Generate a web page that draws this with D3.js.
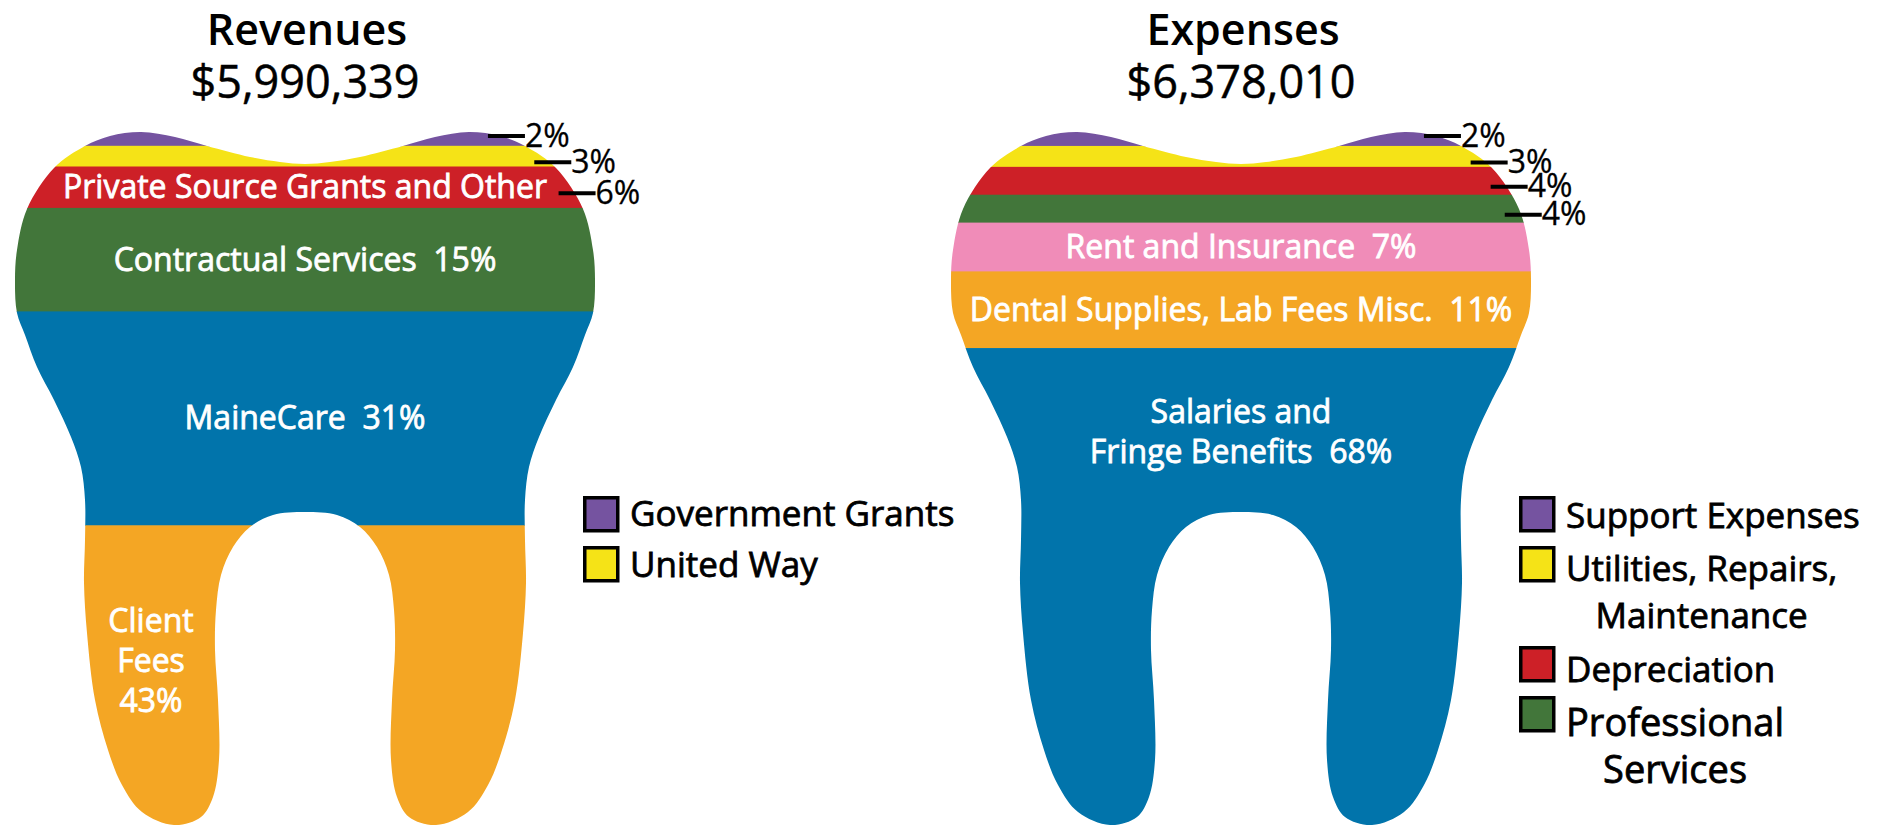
<!DOCTYPE html>
<html>
<head>
<meta charset="utf-8">
<script src="https://cdn.jsdelivr.net/npm/d3@7"></script>
<style>
  body { margin: 0; background: #fff; }
  svg { display: block; font-family: "Open Sans", "Noto Sans", sans-serif; }
  text { white-space: pre; }
</style>
</head>
<body>
<svg id="chart" width="1887" height="829"></svg>
<script>
// ---- data ----
const revNames = ['Government Grants', 'United Way', 'Private Source Grants and Other',
                  'Contractual Services', 'MaineCare', 'Client Fees'];
const revPct = [2, 3, 6, 15, 31, 43];
const revColors = ['#7553a0', '#f5e317', '#cd2027', '#42763a', '#0174ab', '#f4a624'];
const revTotal = '$5,990,339';
// text shown inside the tooth ({p} = percent), null = no inside label
const revInside = [null, null, ['Private Source Grants and Other'], ['Contractual Services  {p}'],
                   ['MaineCare  {p}'], ['Client', 'Fees', '{p}']];
const revLegend = [['Government Grants'], ['United Way']];

const expNames = ['Support Expenses', 'Utilities, Repairs, Maintenance', 'Depreciation',
                  'Professional Services', 'Rent and Insurance', 'Dental Supplies, Lab Fees Misc.',
                  'Salaries and Fringe Benefits'];
const expPct = [2, 3, 4, 4, 7, 11, 68];
const expColors = ['#7553a0', '#f5e317', '#cd2027', '#42763a', '#f08cb8', '#f4a624', '#0174ab'];
const expTotal = '$6,378,010';
const expInside = [null, null, null, null, ['Rent and Insurance  {p}'],
                   ['Dental Supplies, Lab Fees Misc.  {p}'], ['Salaries and', 'Fringe Benefits  {p}']];
const expLegend = [['Support Expenses'], ['Utilities, Repairs,', 'Maintenance'], ['Depreciation'],
                   ['Professional', 'Services']];

// ---- layout ----
const toothTop = 132, toothBottom = 822, holeTop = 512;
// left half of the tooth outline (dx from centre, y), from the middle dip round to the top of the gap
const halfOutline = [[0,164],[-25,162],[-55,157],[-98,146],[-130,137],[-164,132],[-195,136],[-220,146],
  [-251,168],[-278,209],[-288,250],[-290,280],[-288,313],[-280,335],[-268,367],[-251,400],[-234,437],
  [-224,467],[-220,500],[-220,540],[-221,583],[-218,633],[-210,700],[-197,750],[-183,785],[-163,812],
  [-131,825],[-104,817],[-92,797],[-86,760],[-87,700],[-90,650],[-89,610],[-84,575],[-72,547],
  [-55,527],[-32,515],[0,512]];
const outline = halfOutline.concat(halfOutline.slice(1, -1).reverse().map(([x, y]) => [-x, y]));

const teeth = [
  { cx: 305, title: 'Revenues', total: revTotal, names: revNames, pct: revPct, colors: revColors,
    inside: revInside, callouts: 2, legend: revLegend, legendSize: [35, 35], legendDy: [30, 31],
    lastPlace: 'root' },
  { cx: 1241, title: 'Expenses', total: expTotal, names: expNames, pct: expPct, colors: expColors,
    inside: expInside, callouts: 3, legend: expLegend, legendSize: [35, 35, 35, 38], legendDy: [32, 35, 36, 40],
    lastPlace: 'crown' }
];
// callouts drawn for bands 0..callouts (revenue also for "Private Source" 6%)

const svg = d3.select('#chart');
const toothLine = d3.line().curve(d3.curveCatmullRomClosed.alpha(0.5));

teeth.forEach((t, ti) => {
  const g = svg.append('g').attr('transform', `translate(${t.cx},0)`);

  // titles
  g.append('text').attr('x', 2).attr('y', 45).attr('text-anchor', 'middle')
    .attr('font-size', 43).attr('font-weight', 600).text(t.title);
  g.append('text').attr('x', 0).attr('y', 98).attr('text-anchor', 'middle')
    .attr('font-size', 45).attr('stroke', '#000').attr('stroke-width', 0.5).text(t.total);

  const total = d3.sum(t.pct);
  const y = d3.scaleLinear().domain([0, total]).range([toothTop, toothBottom]);
  const cum = d3.cumsum(t.pct);
  const bands = t.pct.map((p, i) => ({
    i, p, name: t.names[i], color: t.colors[i],
    y0: y(i ? cum[i - 1] : 0), y1: y(cum[i])
  }));

  const clipId = 'tooth' + ti;
  const shape = g.append('clipPath').attr('id', clipId)
    .append('path').attr('d', toothLine(outline));

  g.append('g').attr('clip-path', `url(#${clipId})`)
    .selectAll('rect').data(bands).join('rect')
    .attr('x', -300).attr('width', 600)
    .attr('y', d => d.y0).attr('height', d => d.y1 - d.y0 + (d.i === bands.length - 1 ? 6 : 0.6))
    .attr('fill', d => d.color);

  // right edge of the outline at a given y, sampled from the path
  const node = shape.node();
  const len = node.getTotalLength();
  const samples = d3.range(0, len, 0.5).map(l => node.getPointAtLength(l));
  const edgeAt = yy => d3.max(samples.filter(p => Math.abs(p.y - yy) < 1.5 && p.x > 0), p => p.x);

  // inside labels
  bands.forEach(b => {
    const lines = t.inside[b.i];
    if (!lines) return;
    const txt = lines.map(s => s.replace('{p}', b.p + '%'));
    const lh = 40;
    let cx = 0, cy = (b.y0 + b.y1) / 2;
    if (b.i === bands.length - 1 && t.lastPlace === 'root') { cx = -154; cy = (b.y0 + b.y1) / 2 - 13; }
    if (b.i === bands.length - 1 && t.lastPlace === 'crown') { cy = (b.y0 + holeTop) / 2 + 2; }
    const tx = g.append('text').attr('text-anchor', 'middle').attr('fill', '#fff')
      .attr('stroke', '#fff').attr('stroke-width', 0.8).attr('font-size', 32);
    txt.forEach((s, k) => {
      tx.append('tspan').attr('x', cx)
        .attr('y', cy + (k - (txt.length - 1) / 2) * lh + 11).text(s);
    });
  });

  // callouts for the thin top bands
  bands.filter(b => b.i <= t.callouts).forEach(b => {
    const ly = b.i === 0 ? b.y0 + 4 : (b.y0 + b.y1) / 2 + 6;
    const x1 = edgeAt(ly) + 20;
    g.append('line').attr('x1', x1 - 37).attr('x2', x1).attr('y1', ly).attr('y2', ly)
      .attr('stroke', '#000').attr('stroke-width', 4);
    g.append('text').attr('x', x1).attr('y', ly + 10.5).attr('font-size', 32)
      .attr('stroke', '#000').attr('stroke-width', 0.3).text(b.p + '%');
  });

  // legend
  const lg = g.append('g').attr('transform', 'translate(278,496)');
  let row = 0;
  t.legend.forEach((lines, i) => {
    const item = lg.append('g').attr('transform', `translate(0,${row * 50})`);
    item.append('rect').attr('x', 1.75).attr('y', 1.75).attr('width', 33).attr('height', 33)
      .attr('fill', t.colors[i]).attr('stroke', '#000').attr('stroke-width', 3.5);
    const fs = t.legendSize[i];
    const dy = t.legendDy[i];
    const first = item.append('text').attr('x', 47).attr('y', dy)
      .attr('font-size', fs).attr('stroke', '#000').attr('stroke-width', 0.8).text(lines[0]);
    const w = first.node().getComputedTextLength();
    lines.slice(1).forEach((s, k) => {
      item.append('text').attr('x', 47 + w / 2).attr('y', dy + (k + 1) * 47)
        .attr('text-anchor', 'middle').attr('font-size', fs)
        .attr('stroke', '#000').attr('stroke-width', 0.8).text(s);
    });
    row += lines.length;
  });
});
</script>
</body>
</html>
